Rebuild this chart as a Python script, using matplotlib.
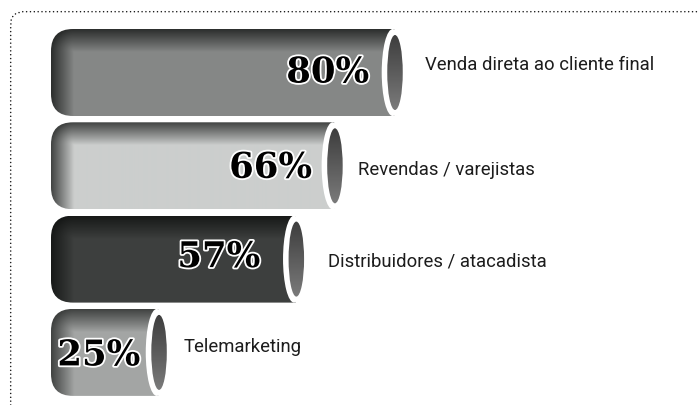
import numpy as np
import matplotlib
matplotlib.use("Agg")
import matplotlib.pyplot as plt
import matplotlib.patheffects as pe
from matplotlib.patches import Ellipse, PathPatch
from matplotlib.path import Path
from matplotlib.lines import Line2D

categories = ["Venda direta ao cliente final", "Revendas / varejistas",
              "Distribuidores / atacadista", "Telemarketing"]
values = [80, 66, 57, 25]
value_labels = ["80%", "66%", "57%", "25%"]
body_shades = [0.525, 0.80, 0.24, 0.64]
edge_shades = [0.17, 0.25, 0.09, 0.25]
label_dx_px = [31, 24, 32, 25]
label_dy_px = [-7.5, 4, 2, -5.5]
pct_right_px = [369, 312, 260, 140]
pct_dy_px = [0, 2, -2, 3]

W, H = 700, 405
PXX = 4.29      # px per percent
PXY = 93.3      # px per row
X0, Y0 = 51, 72.5
BAR_PX = 87

fig = plt.figure(figsize=(W / 100, H / 100), dpi=100)
ax = fig.add_axes([0, 0, 1, 1])
ax.axis("off")

def rounded_left(x1, yc, r_px=22):
    """Bar outline with rounded left corners, in data units."""
    hh = BAR_PX / 2 / PXY
    rx, ry = r_px / PXX, r_px / PXY
    verts = [(0 + rx, yc - hh), (x1, yc - hh), (x1, yc + hh), (rx, yc + hh),
             (0, yc + hh), (0, yc + hh - ry), (0, yc - hh + ry),
             (0, yc - hh), (rx, yc - hh), (rx, yc - hh)]
    codes = [Path.MOVETO, Path.LINETO, Path.LINETO, Path.LINETO,
             Path.CURVE3, Path.CURVE3, Path.LINETO,
             Path.CURVE3, Path.CURVE3, Path.CLOSEPOLY]
    return Path(verts, codes)

FADE = 23
for i, v in enumerate(values):
    hh = BAR_PX / 2 / PXY
    # shading of the tube, in pixel-sized cells
    nx = max(int(v * PXX), 2)
    ny = BAR_PX
    xx = np.arange(nx) + 0.5
    yy = np.arange(ny) + 0.5
    gx, gy = np.meshgrid(np.maximum(0, FADE - xx), np.maximum(0, FADE - yy))
    t = np.clip(np.hypot(gx, gy) / FADE, 0, 1) ** 0.95
    shade = body_shades[i] + (edge_shades[i] - body_shades[i]) * t
    rgb = np.dstack([shade, shade + 0.008, shade + 0.004])
    im = ax.imshow(rgb, extent=(0, v, i + hh, i - hh), aspect="auto",
                   origin="upper", zorder=2, interpolation="bilinear")
    clip = PathPatch(rounded_left(v, i), transform=ax.transData,
                     facecolor="none", edgecolor="none")
    ax.add_patch(clip)
    im.set_clip_path(clip)

    # open end of the tube
    ax.add_patch(Ellipse((v - 1.5 / PXX, i), 22 / PXX, BAR_PX / PXY,
                         facecolor="white", edgecolor="none", zorder=3))
    inner = Ellipse((v + 0.8 / PXX, i), 15.5 / PXX, 75 / PXY,
                    facecolor="none", edgecolor="none", zorder=4)
    ax.add_patch(inner)
    ramp = np.linspace(0.24, 0.48, 64)[:, None]
    hole = ax.imshow(np.dstack([ramp, ramp, ramp]), zorder=4, aspect="auto",
                     extent=(v - 8 / PXX, v + 10 / PXX, i + 38 / PXY, i - 38 / PXY),
                     origin="upper", interpolation="bilinear")
    hole.set_clip_path(inner)

    # value text and category label
    ax.text((pct_right_px[i] - X0) / PXX, i + pct_dy_px[i] / PXY, value_labels[i],
            ha="right", va="center", fontsize=25.5, fontweight="bold",
            family="DejaVu Serif", color="black", zorder=6,
            path_effects=[pe.withStroke(linewidth=2.6, foreground="white")])
    ax.text(v + label_dx_px[i] / PXX, i + label_dy_px[i] / PXY, categories[i],
            ha="left", va="center", fontsize=13.3, family="Roboto",
            color="#1c1c1c", zorder=6)

ax.set_xlim(-X0 / PXX, (W - X0) / PXX)
ax.set_ylim((H - Y0) / PXY, -Y0 / PXY)

# dotted frame: top and left sides with a rounded corner (figure pixels)
fx = np.array([10.7, 10.7, 11.2, 13, 16, 22, 700])
fy = np.array([405, 26, 20, 16, 13.5, 11.7, 11.7])
fig.add_artist(Line2D(fx / W, 1 - fy / H, transform=fig.transFigure, color="#111111",
                      linewidth=1.15, linestyle=(0, (0.01, 2.4)),
                      dash_capstyle="round"))

fig.savefig("out.png", dpi=100)
